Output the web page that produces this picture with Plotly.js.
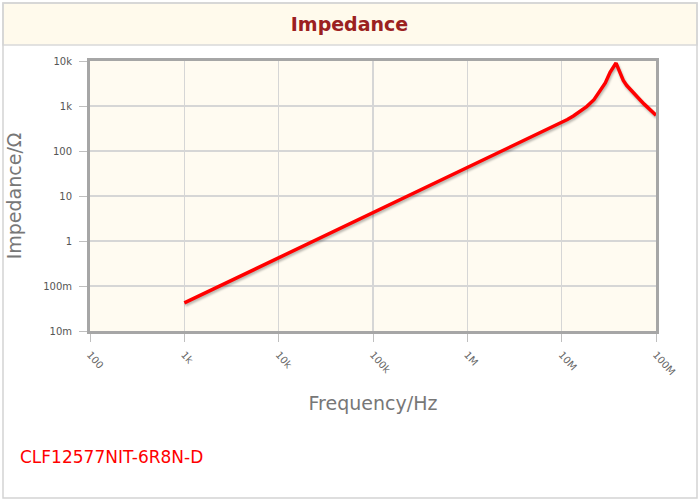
<!DOCTYPE html>
<html>
<head>
<meta charset="utf-8">
<script src="https://cdn.plot.ly/plotly-3.0.1.min.js"></script>
<style>
  html, body { margin: 0; padding: 0; background: #ffffff; }
  #chart { width: 699px; height: 504px; }
  #chart .scatterlayer .trace path.js-line { filter: drop-shadow(1px 2px 1px rgba(0,0,0,0.28)); }
</style>
</head>
<body>
<div id="chart"></div>
<script>
// Frequency (Hz) and impedance (Ohm)
const frequency = [1e3, 3e3, 1e4, 3e4, 1e5, 3e5, 1e6, 3e6, 7e6, 1e7, 1.15e7, 1.33e7, 1.57e7, 1.84e7, 2.2e7, 2.55e7, 2.9e7, 3.26e7, 3.53e7, 3.77e7, 3.9e7, 4.0e7, 4.2e7, 4.5e7, 4.9e7, 5.5e7, 6.0e7, 6.8e7, 7.5e7, 8.5e7, 1e8];
const impedance = [0.042, 0.126, 0.42, 1.26, 4.2, 12.6, 42, 126, 300, 425, 500, 600, 750, 970, 1380, 2100, 3250, 5600, 7300, 9000, 7600, 6600, 5100, 3700, 2850, 2150, 1760, 1360, 1100, 850, 620];

const xTickVals = [1e2, 1e3, 1e4, 1e5, 1e6, 1e7, 1e8];
const xTickText = ["100", "1k", "10k", "100k", "1M", "10M", "100M"];
const yTickVals = [1e-2, 1e-1, 1, 10, 100, 1e3, 1e4];
const yTickText = ["10m", "100m", "1", "10", "100", "1k", "10k"];

const titleText = "Impedance";
const xTitle = "Frequency/Hz";
const yTitle = "Impedance/Ω";
const partNumber = "CLF12577NIT-6R8N-D";

// plot area in pixels (for paper-coordinate conversions)
const W = 699, H = 504, L = 90, R = 656, T = 61, B = 331;
const px = v => (v - L) / (R - L);
const py = v => (B - v) / (B - T);

const trace = {
  x: frequency,
  y: impedance,
  type: 'scatter',
  mode: 'lines',
  line: { color: '#ff0000', width: 3.5 },
  hoverinfo: 'skip'
};

const axisCommon = {
  type: 'log',
  showline: true,
  linecolor: '#a6a6a6',
  linewidth: 3,
  mirror: true,
  showgrid: true,
  gridcolor: '#d6d6d6',
  gridwidth: 1.5,
  zeroline: false,
  ticks: 'outside',
  ticklen: 8,
  tickwidth: 1,
  tickcolor: '#bfbfbf',
  tickmode: 'array',
  tickfont: { family: 'DejaVu Sans', size: 10, color: '#555555' },
  automargin: false
};

const layout = {
  width: W,
  height: H,
  margin: { l: L, r: W - R, t: T, b: H - B, pad: 0 },
  paper_bgcolor: '#ffffff',
  plot_bgcolor: '#fffbf1',
  showlegend: false,
  title: {
    text: '<b>' + titleText + '</b>',
    font: { family: 'DejaVu Sans', size: 19, color: '#9b2020' },
    xref: 'container', yref: 'container',
    x: 0.5, xanchor: 'center',
    y: (H - 24) / H, yanchor: 'middle'
  },
  xaxis: Object.assign({}, axisCommon, {
    range: [2, 8],
    tickvals: xTickVals,
    ticktext: xTickText,
    tickangle: 48,
    ticklabelstandoff: 3,
    tickfont: { family: 'DejaVu Sans', size: 10, color: '#666666' },
    title: { text: xTitle, font: { family: 'DejaVu Sans', size: 19, color: '#777777' }, standoff: 21 }
  }),
  yaxis: Object.assign({}, axisCommon, {
    range: [-2, 4],
    tickvals: yTickVals,
    ticktext: yTickText,
    ticklabelstandoff: 5,
    title: { text: yTitle, font: { family: 'DejaVu Sans', size: 19, color: '#777777' }, standoff: 17 }
  }),
  shapes: [
    { type: 'rect', xref: 'paper', yref: 'paper', layer: 'below',
      x0: px(3), x1: px(697), y0: py(45), y1: py(3),
      fillcolor: '#fffaec', line: { color: '#d9d9d9', width: 1.5 } },
    { type: 'rect', xref: 'paper', yref: 'paper', layer: 'above',
      x0: px(3), x1: px(697), y0: py(498), y1: py(3),
      fillcolor: 'rgba(0,0,0,0)', line: { color: '#d4d4d4', width: 1.5 } }
  ],
  annotations: [
    { text: partNumber, xref: 'paper', yref: 'paper',
      x: px(18), y: py(457), xanchor: 'left', yanchor: 'middle', showarrow: false,
      font: { family: 'DejaVu Sans', size: 17, color: '#ff0000' } }
  ]
};

Plotly.newPlot('chart', [trace], layout, { displayModeBar: false, staticPlot: true });
</script>
</body>
</html>
